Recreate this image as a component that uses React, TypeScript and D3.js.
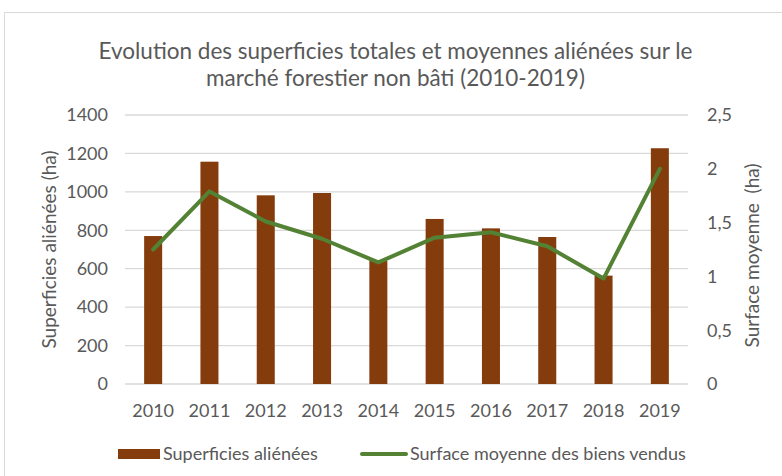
import React from "react";
import { scaleBand, scaleLinear, line } from "d3";

const years = ["2010", "2011", "2012", "2013", "2014", "2015", "2016", "2017", "2018", "2019"];
const superficies = [770, 1157, 982, 994, 640, 859, 810, 765, 564, 1227];
const surfaceMoyenne = [1.25, 1.79, 1.51, 1.35, 1.13, 1.36, 1.41, 1.28, 0.98, 2.0];
const leftTicks = [0, 200, 400, 600, 800, 1000, 1200, 1400];
const rightTicks = [0, 0.5, 1, 1.5, 2, 2.5];

const FONT = "Lato, 'Open Sans', sans-serif";
const GREY = "#595959";

export default function App() {
  const width = 782;
  const height = 476;
  const margin = { top: 115, right: 94, bottom: 92, left: 125 };
  const innerWidth = width - margin.left - margin.right;
  const innerHeight = height - margin.top - margin.bottom;

  const xScale = scaleBand<string>()
    .domain(years)
    .range([0, innerWidth])
    .paddingInner(0.68)
    .paddingOuter(0.34);
  const yLeft = scaleLinear().domain([0, 1400]).range([innerHeight, 0]);
  const yRight = scaleLinear().domain([0, 2.5]).range([innerHeight, 0]);

  const cx = (i: number) => (xScale(years[i]) ?? 0) + xScale.bandwidth() / 2;
  const pathD = line<number>()
    .x((_, i) => cx(i))
    .y((d) => yRight(d))(surfaceMoyenne);

  return (
    <svg
      width={width}
      height={height}
      style={{ position: "absolute", left: 0, top: 0, background: "#fff" }}
    >
      <rect x={4.5} y={12.5} width={820} height={500} fill="#fff" stroke="#d9d9d9" />
      <text x={395.5} y={59} textAnchor="middle" fontFamily={FONT} fontSize={22.5} fill={GREY}>
        Evolution des superficies totales et moyennes aliénées sur le
      </text>
      <text x={395.5} y={86} textAnchor="middle" fontFamily={FONT} fontSize={22.5} fill={GREY}>
        marché forestier non bâti (2010-2019)
      </text>

      <g transform={`translate(${margin.left},${margin.top})`}>
        {/* gridlines + left axis */}
        {leftTicks.map((t) => (
          <g key={t} transform={`translate(0,${yLeft(t)})`}>
            <line x2={innerWidth} stroke="#d9d9d9" strokeWidth={1.3} />
            <text x={-17} dy="0.35em" textAnchor="end" fontFamily={FONT} fontSize={18} fill={GREY}>
              {t}
            </text>
          </g>
        ))}
        {/* right axis */}
        {rightTicks.map((t) => (
          <text
            key={t}
            x={innerWidth + 19}
            y={yRight(t)}
            dy="0.35em"
            fontFamily={FONT}
            fontSize={18}
            fill={GREY}
          >
            {String(t).replace(".", ",")}
          </text>
        ))}
        {/* bars */}
        {superficies.map((v, i) => (
          <rect
            key={years[i]}
            x={xScale(years[i])}
            y={yLeft(v)}
            width={xScale.bandwidth()}
            height={innerHeight - yLeft(v)}
            fill="#843c0c"
          />
        ))}
        {/* line */}
        <path d={pathD ?? ""} fill="none" stroke="#548235" strokeWidth={4} strokeLinejoin="round" strokeLinecap="round" />
        {/* x labels */}
        {years.map((y, i) => (
          <text
            key={y}
            x={cx(i)}
            y={innerHeight + 33}
            textAnchor="middle"
            fontFamily={FONT}
            fontSize={18}
            fill={GREY}
          >
            {y}
          </text>
        ))}
        <text
          transform={`translate(-69,${innerHeight / 2 + 115 - margin.top}) rotate(-90)`}
          textAnchor="middle"
          fontFamily={FONT}
          fontSize={19}
          fill={GREY}
        >
          Superficies aliénées (ha)
        </text>
        <text
          transform={`translate(${innerWidth + 71},${innerHeight / 2 + 6}) rotate(-90)`}
          textAnchor="middle"
          fontFamily={FONT}
          fontSize={19}
          fill={GREY}
          style={{ whiteSpace: "pre" }}
        >
          {"Surface moyenne  (ha)"}
        </text>
      </g>

      {/* legend */}
      <rect x={118} y={449} width={42} height={10} fill="#843c0c" />
      <text x={163} y={460} fontFamily={FONT} fontSize={18} fill={GREY}>
        Superficies aliénées
      </text>
      <line x1={362} x2={406} y1={454} y2={454} stroke="#548235" strokeWidth={4} strokeLinecap="round" />
      <text x={410} y={460} fontFamily={FONT} fontSize={18} fill={GREY}>
        Surface moyenne des biens vendus
      </text>
    </svg>
  );
}
